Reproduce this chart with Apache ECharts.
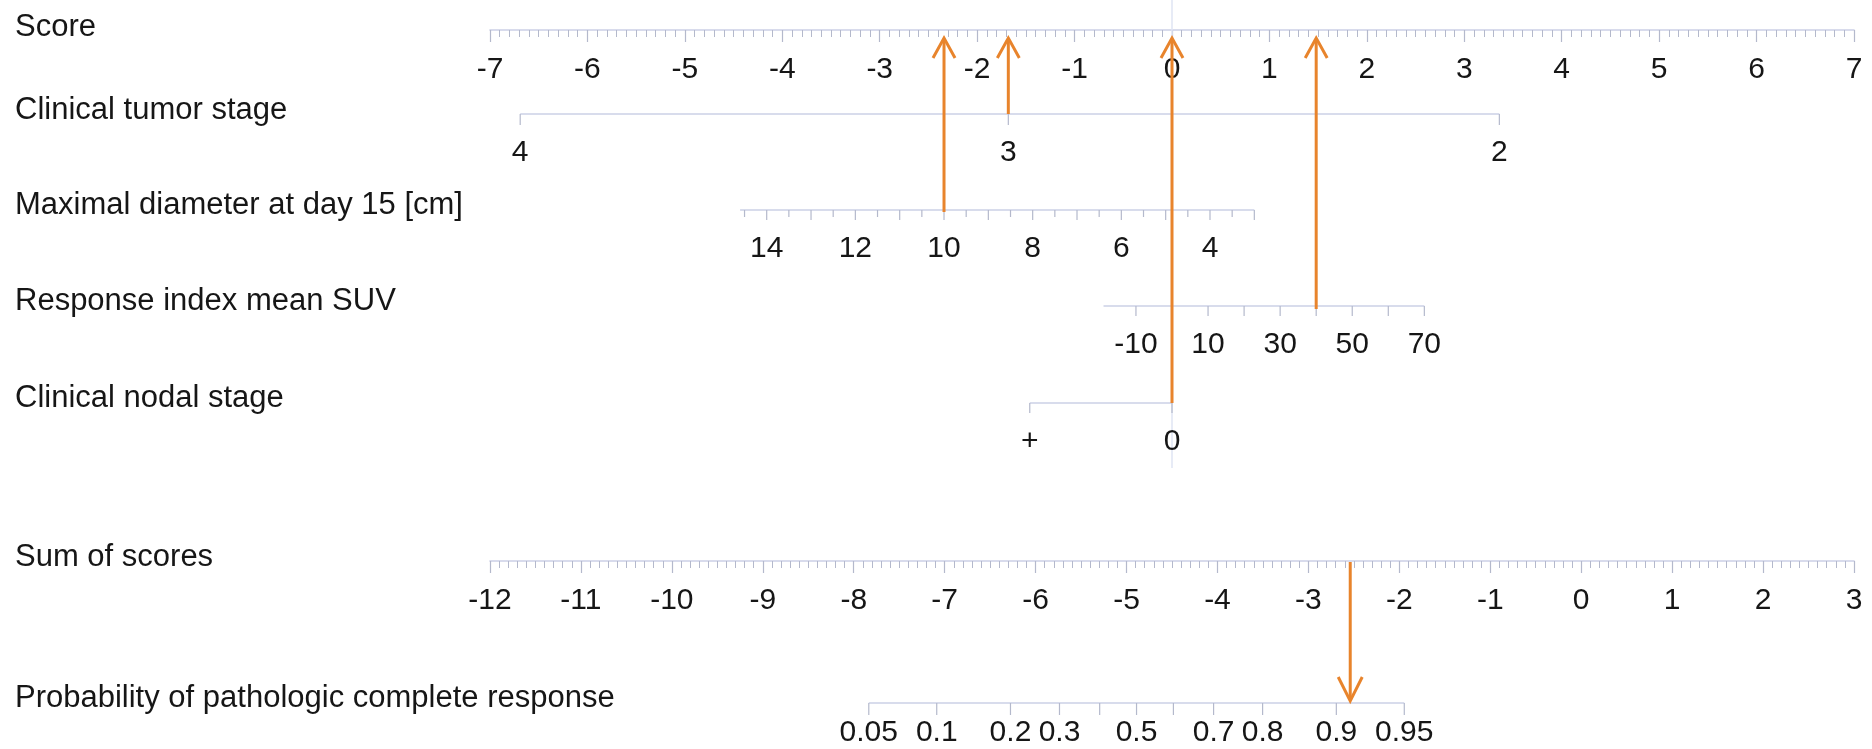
<!DOCTYPE html>
<html>
<head>
<meta charset="utf-8">
<script src="https://cdn.jsdelivr.net/npm/echarts@6/dist/echarts.min.js"></script>
<style>
  html, body { margin: 0; padding: 0; background: #ffffff; }
  #chart { width: 1872px; height: 749px; }
</style>
</head>
<body>
<div id="chart"></div>
<script>
// Nomogram for pathologic complete response: points per predictor,
// total score and predicted probability, with one worked example.

// ---- axes of the score panel ----
const scoreMin = -7;
const scoreMax = 7;
const sumMin = -12;
const sumMax = 3;

// ---- clinical tumor stage (categorical) ----
const tumorStageLabels = ['4', '3', '2'];
const tumorStagePoints = [-6.69, -1.68, 3.36];

// ---- maximal diameter at day 15, cm (linear term) ----
const diameterRange = [3, 14.6];
const diameterTicks = [3, 3.5, 4, 4.5, 5, 5.5, 6, 6.5, 7, 7.5, 8, 8.5, 9, 9.5,
                       10, 10.5, 11, 11.5, 12, 12.5, 13, 13.5, 14, 14.5];
const diameterLabels = [4, 6, 8, 10, 12, 14];
const diameterIntercept = 2.21;
const diameterSlope = -0.455;

// ---- response index of mean SUV (linear term) ----
const suvRange = [-19, 70];
const suvTicks = [-10, 0, 10, 20, 30, 40, 50, 60, 70];
const suvLabels = [-10, 10, 30, 50, 70];
const suvSlope = 0.037;

// ---- clinical nodal stage (categorical) ----
const nodalStageLabels = ['+', '0'];
const nodalStagePoints = [-1.46, 0];

// ---- probability scale (logistic link) ----
const probTicks = [0.05, 0.1, 0.2, 0.3, 0.4, 0.5, 0.6, 0.7, 0.8, 0.9, 0.95];
const probLabels = [0.05, 0.1, 0.2, 0.3, 0.5, 0.7, 0.8, 0.9, 0.95];
const modelIntercept = 4.89;

// ---- worked example ----
const exampleTumorStage = '3';
const exampleDiameter = 10;
const exampleSuv = 40;
const exampleNodalStage = '0';

// ---- row titles ----
const rowTitles = ['Score', 'Clinical tumor stage', 'Maximal diameter at day 15 [cm]',
  'Response index mean SUV', 'Clinical nodal stage', 'Sum of scores',
  'Probability of pathologic complete response'];

// ---- layout (pixels) ----
const layout = {
  plotLeft: 490, plotRight: 18,
  lineY: { score: 30, tumor: 114, diameter: 210, suv: 306, nodal: 403, sum: 561, prob: 703 },
  titleY: [27, 110, 205, 301, 398, 557, 698],
  labelGap: 39, probLabelGap: 30,
  zeroLineBottom: 468
};

const FONT_FAMILY = '"Liberation Sans", Arial, Helvetica, sans-serif';
const TITLE_FONT = '31px ' + FONT_FAMILY;
const LABEL_SIZE = 30;
const LABEL_FONT = LABEL_SIZE + 'px ' + FONT_FAMILY;
const TEXT_COLOR = '#161616';
const AXIS_COLOR = '#cbd0e6';
const TICK_COLOR = '#b4b9cc';
const ARROW_COLOR = '#e8842c';

const diameterScore = d => diameterIntercept + diameterSlope * d;
const suvScore = s => suvSlope * s;
const logit = p => Math.log(p / (1 - p));
const probToSum = p => logit(p) - modelIntercept;

// ---- tick sets expressed on the score / sum scales ----
const tumorTicks = tumorStageLabels.map((lab, i) => ({ pos: tumorStagePoints[i], len: 11, text: lab }));
const diamTicks = diameterTicks.map(d => ({
  pos: diameterScore(d), len: Number.isInteger(d) ? 10 : 7,
  text: diameterLabels.indexOf(d) >= 0 ? String(d) : ''
}));
const suvTickSet = suvTicks.map(s => ({ pos: suvScore(s), len: 10, text: suvLabels.indexOf(s) >= 0 ? String(s) : '' }));
const nodalTicks = nodalStageLabels.map((lab, i) => ({ pos: nodalStagePoints[i], len: 10, text: lab }));
const probTickSet = probTicks.map(p => ({ pos: probToSum(p), len: 12, text: probLabels.indexOf(p) >= 0 ? String(p) : '' }));

// ---- worked example on the scales ----
const exTumor = tumorStagePoints[tumorStageLabels.indexOf(exampleTumorStage)];
const exDiam = diameterScore(exampleDiameter);
const exSuv = suvScore(exampleSuv);
const exNodal = nodalStagePoints[nodalStageLabels.indexOf(exampleNodalStage)];
const exTotal = exTumor + exDiam + exSuv + exNodal;

// a predictor scale: baseline across its span plus ticks and labels
function scaleSeries(name, ticks, span, y, axisIndex, labelGap) {
  return {
    type: 'custom', name: name, silent: true,
    xAxisIndex: axisIndex, yAxisIndex: axisIndex,
    data: ticks.map(t => [t.pos, y, t.len]),
    renderItem: function (params, api) {
      const p = api.coord([api.value(0), api.value(1)]);
      const t = ticks[params.dataIndex];
      const children = [];
      if (params.dataIndex === 0) {
        const a = api.coord([span[0], y]);
        const b = api.coord([span[1], y]);
        children.push({ type: 'line', shape: { x1: a[0], y1: a[1], x2: b[0], y2: b[1] },
          style: { stroke: AXIS_COLOR, lineWidth: 1.6 } });
      }
      children.push({ type: 'line', shape: { x1: p[0], y1: p[1], x2: p[0], y2: p[1] + api.value(2) },
        style: { stroke: TICK_COLOR, lineWidth: 1.2 } });
      if (t.text !== '') {
        children.push({ type: 'text', x: p[0], y: p[1] + labelGap,
          style: { text: t.text, font: LABEL_FONT, fill: TEXT_COLOR, align: 'center', verticalAlign: 'middle' } });
      }
      return { type: 'group', children: children };
    }
  };
}

// an arrow from one row to another at a given scale position
function arrowSeries(name, items, axisIndex, head) {
  return {
    type: 'custom', name: name, silent: true, z: 5,
    xAxisIndex: axisIndex, yAxisIndex: axisIndex,
    data: items,
    renderItem: function (params, api) {
      const from = api.coord([api.value(0), api.value(1)]);
      const to = api.coord([api.value(0), api.value(2)]);
      const dir = to[1] < from[1] ? 1 : -1;
      const style = { stroke: ARROW_COLOR, lineWidth: 3, lineCap: 'butt', lineJoin: 'miter', fill: null };
      return {
        type: 'group',
        children: [
          { type: 'line', shape: { x1: from[0], y1: from[1], x2: to[0], y2: to[1] + dir * 1 }, style: style },
          { type: 'polyline', shape: { points: [[to[0] - head.w, to[1] + dir * head.h], [to[0], to[1]], [to[0] + head.w, to[1] + dir * head.h]] }, style: style }
        ]
      };
    }
  };
}

const L = layout.lineY;

function hiddenGrid(top, height) {
  return { left: layout.plotLeft, right: layout.plotRight, top: top, height: height,
    containLabel: false, outerBoundsMode: 'none', show: false };
}

function visibleAxis(gridIndex, min, max) {
  return {
    type: 'value', gridIndex: gridIndex, min: min, max: max, interval: 1, position: 'bottom',
    axisLine: { show: true, onZero: false, lineStyle: { color: AXIS_COLOR, width: 1.6 } },
    axisTick: { show: true, length: 12, lineStyle: { color: TICK_COLOR, width: 1.2 } },
    minorTick: { show: true, splitNumber: 10, length: 7, lineStyle: { color: TICK_COLOR, width: 1 } },
    splitLine: { show: false }, minorSplitLine: { show: false },
    axisLabel: { show: true, margin: 25, fontSize: LABEL_SIZE, fontFamily: FONT_FAMILY, color: TEXT_COLOR,
      showMinLabel: true, showMaxLabel: true, hideOverlap: false }
  };
}

function hiddenAxis(gridIndex, min, max, inverse) {
  return { type: 'value', gridIndex: gridIndex, min: min, max: max, inverse: !!inverse, show: false,
    splitLine: { show: false } };
}

const option = {
  animation: false,
  backgroundColor: '#ffffff',
  grid: [
    hiddenGrid(0, L.score),   // 0: visible score axis
    hiddenGrid(0, L.sum),     // 1: visible sum-of-scores axis
    hiddenGrid(0, 749),       // 2: score-scale overlay
    hiddenGrid(0, 749)        // 3: sum-scale overlay
  ],
  xAxis: [
    visibleAxis(0, scoreMin, scoreMax),
    visibleAxis(1, sumMin, sumMax),
    hiddenAxis(2, scoreMin, scoreMax),
    hiddenAxis(3, sumMin, sumMax)
  ],
  yAxis: [
    hiddenAxis(0, 0, 1),
    hiddenAxis(1, 0, 1),
    hiddenAxis(2, 0, 749, true),
    hiddenAxis(3, 0, 749, true)
  ],
  graphic: rowTitles.map((t, i) => ({
    type: 'text', x: 15, y: layout.titleY[i], silent: true,
    style: { text: t, font: TITLE_FONT, fill: TEXT_COLOR, verticalAlign: 'middle' }
  })),
  series: [
    {
      type: 'custom', name: 'zero reference', silent: true, xAxisIndex: 2, yAxisIndex: 2,
      data: [[0, 0, layout.zeroLineBottom]],
      renderItem: function (params, api) {
        const a = api.coord([api.value(0), api.value(1)]);
        const b = api.coord([api.value(0), api.value(2)]);
        return { type: 'line', shape: { x1: a[0], y1: a[1], x2: b[0], y2: b[1] },
          style: { stroke: '#dfe5f3', lineWidth: 1.5 } };
      }
    },
    scaleSeries('Clinical tumor stage', tumorTicks, [tumorStagePoints[0], tumorStagePoints[2]], L.tumor, 2, layout.labelGap),
    scaleSeries('Maximal diameter', diamTicks, [diameterScore(diameterRange[1]), diameterScore(diameterRange[0])], L.diameter, 2, layout.labelGap),
    scaleSeries('Response index mean SUV', suvTickSet, [suvScore(suvRange[0]), suvScore(suvRange[1])], L.suv, 2, layout.labelGap),
    scaleSeries('Clinical nodal stage', nodalTicks, [nodalStagePoints[0], nodalStagePoints[1]], L.nodal, 2, layout.labelGap),
    scaleSeries('Probability', probTickSet, [probToSum(probTicks[0]), probToSum(probTicks[probTicks.length - 1])], L.prob, 3, layout.probLabelGap),
    arrowSeries('example points', [
      [exTumor, L.tumor, L.score + 8],
      [exDiam, L.diameter + 2, L.score + 8],
      [exSuv, L.suv + 3, L.score + 8],
      [exNodal, L.nodal, L.score + 8]
    ], 2, { w: 11, h: 20 }),
    arrowSeries('example total', [[exTotal, L.sum + 1, L.prob - 2]], 3, { w: 12, h: 24 })
  ]
};

const chart = echarts.init(document.getElementById('chart'), null, { renderer: 'canvas' });
chart.setOption(option);
</script>
</body>
</html>
